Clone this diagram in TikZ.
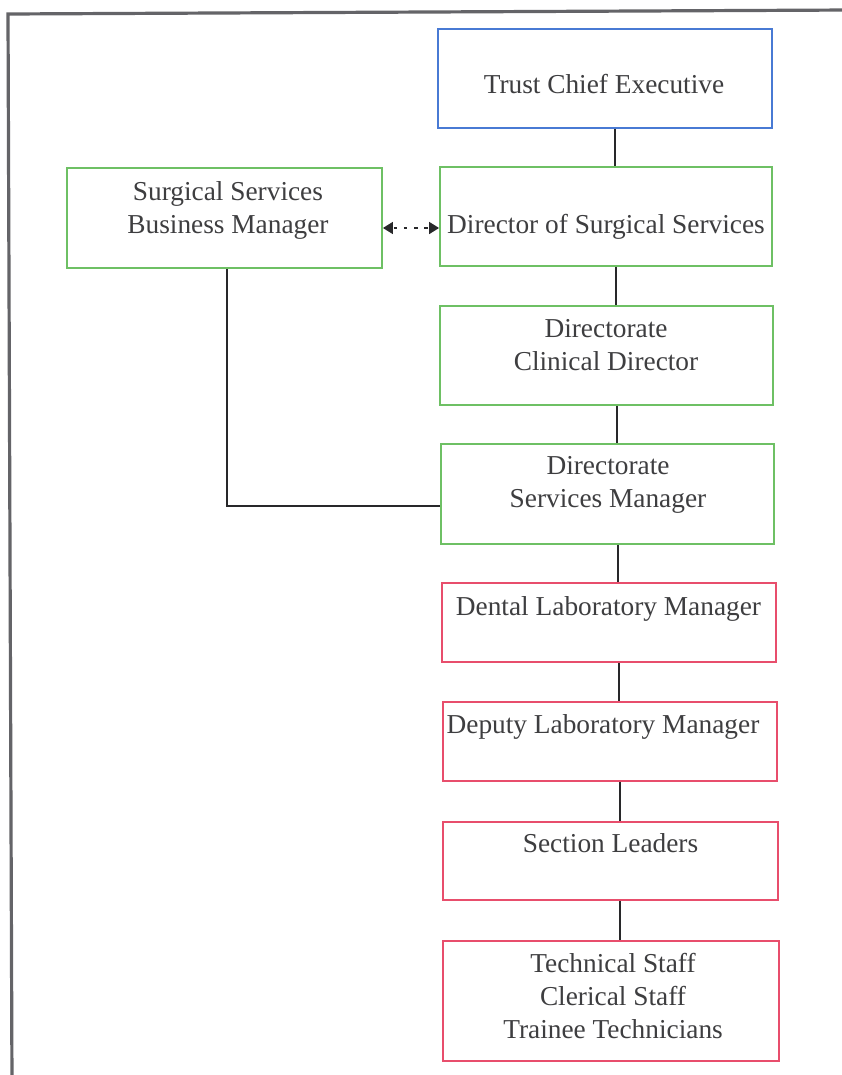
\documentclass[tikz,border=0pt]{standalone}
\usepackage{fontspec}
\setmainfont{Liberation Serif}
\usetikzlibrary{arrows.meta}

\definecolor{bluebox}{RGB}{72,122,212}
\definecolor{greenbox}{RGB}{110,192,100}
\definecolor{redbox}{RGB}{232,78,108}
\definecolor{inkgray}{RGB}{62,62,64}
\definecolor{wire}{RGB}{40,40,42}
\definecolor{framegray}{RGB}{100,100,104}

\tikzset{
  box/.style={draw, line width=1.4pt, rectangle, inner sep=0pt, fill=white},
  bluerole/.style={box, draw=bluebox},
  greenrole/.style={box, draw=greenbox},
  redrole/.style={box, draw=redbox},
  lbl/.style={text=inkgray, inner sep=0pt, align=center,
    font=\fontsize{20.5}{24.75}\selectfont},
  wireline/.style={draw=wire, line width=1.5pt},
  dotlink/.style={draw=wire, line width=1.3pt, dash pattern=on 2.6pt off 5pt,
    dash phase=-1pt,
    {Triangle[length=7.5pt,width=9pt]}-{Triangle[length=7.5pt,width=9pt]}},
  frameline/.style={draw=framegray, line width=2.4pt}
}

\begin{document}
\begin{tikzpicture}[x=0.75pt, y=-0.75pt]
  \clip (0,0) rectangle (842,1075);
  \fill[white] (0,0) rectangle (842,1075);

  % page frame
  \coordinate (fbl) at (12,1085);
  \coordinate (ftl) at (8,14);
  \coordinate (ftr) at (850,10);
  \draw[frameline] (fbl) -- (ftl) -- (ftr);

  % boxes
  \node[bluerole,  minimum width=250.5pt,  minimum height=74.25pt] (trust) at (605,78.5) {};
  \node[greenrole, minimum width=249pt,    minimum height=74.25pt] (dss)   at (606,216.5) {};
  \node[greenrole, minimum width=236.25pt, minimum height=75pt]    (ssbm)  at (224.5,218) {};
  \node[greenrole, minimum width=249.75pt, minimum height=74.25pt] (cd)    at (606.5,355.5) {};
  \node[greenrole, minimum width=249.75pt, minimum height=75pt]    (dsm)   at (607.5,494) {};
  \node[redrole,   minimum width=250.5pt,  minimum height=59.25pt] (dlm)   at (609,622.5) {};
  \node[redrole,   minimum width=250.5pt,  minimum height=59.25pt] (dep)   at (610,741.5) {};
  \node[redrole,   minimum width=251.25pt, minimum height=58.5pt]  (sl)    at (610.5,861) {};
  \node[redrole,   minimum width=252pt,    minimum height=90pt]    (staff) at (611,1001) {};

  % labels
  \node[lbl, anchor=base] (ttrust) at (604,93)  {Trust Chief Executive};
  \node[lbl, anchor=base] (tdss)   at (606,233) {Director of Surgical Services};
  \node[lbl]              (tssbm)  at (228,210) {Surgical Services\\Business Manager};
  \node[lbl]              (tcd)    at (606,345) {Directorate\\Clinical Director};
  \node[lbl]              (tdsm)   at (608,485) {Directorate\\Services Manager};
  \node[lbl, anchor=base] (tdlm)   at (608.5,615) {Dental Laboratory Manager};
  \node[lbl, anchor=base] (tdep)   at (603,733) {Deputy Laboratory Manager};
  \node[lbl, anchor=base] (tsl)    at (610.5,852) {Section Leaders};
  \node[lbl]              (tstaff) at (613,996) {Technical Staff\\Clerical Staff\\Trainee Technicians};

  % reporting lines
  \coordinate (s1) at (615,0);
  \coordinate (s2) at (616,0);
  \coordinate (s3) at (617,0);
  \coordinate (s4) at (618,0);
  \coordinate (s5) at (619,0);
  \coordinate (s6) at (620,0);
  \draw[wireline] (trust.south -| s1) -- (dss.north -| s1);
  \draw[wireline] (dss.south -| s2)   -- (cd.north -| s2);
  \draw[wireline] (cd.south -| s3)    -- (dsm.north -| s3);
  \draw[wireline] (dsm.south -| s4)   -- (dlm.north -| s4);
  \draw[wireline] (dlm.south -| s5)   -- (dep.north -| s5);
  \draw[wireline] (dep.south -| s6)   -- (sl.north -| s6);
  \draw[wireline] (sl.south -| s6)    -- (staff.north -| s6);

  % business manager to services manager
  \coordinate (bmx) at (227,0);
  \coordinate (bmy) at (0,506);
  \draw[wireline] (ssbm.south -| bmx) -- (bmx |- bmy) -- (dsm.west |- bmy);

  % liaison link
  \coordinate (liy) at (0,228);
  \draw[dotlink] (ssbm.east |- liy) -- (dss.west |- liy);
\end{tikzpicture}
\end{document}
